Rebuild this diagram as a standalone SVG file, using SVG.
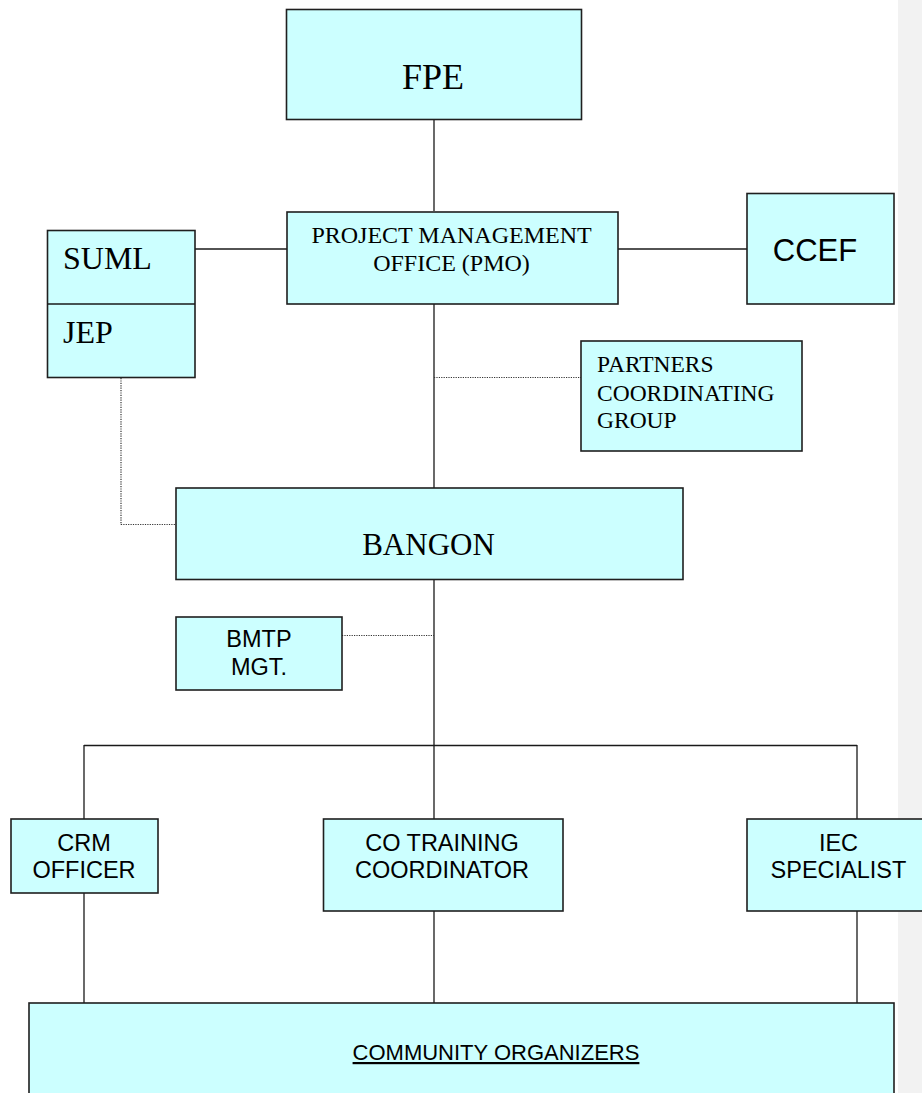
<svg xmlns="http://www.w3.org/2000/svg" width="922" height="1093" viewBox="0 0 922 1093">
<style>
.box{fill:#ccffff;stroke:#1f1f1f;stroke-width:1.6}
.ln{stroke:#1a1a1a;stroke-width:1.3;fill:none}
.dot{stroke:#333;stroke-width:1.2;fill:none;stroke-dasharray:1.2 1.2}
.serif{font-family:"Liberation Serif","Times New Roman",serif;fill:#000}
.sans{font-family:"Liberation Sans",Arial,sans-serif;fill:#000}
</style>
<rect x="898" y="0" width="24" height="1093" fill="#f2f2f2"/>
<g id="connectors">
<line class="ln" x1="434" y1="120" x2="434" y2="211"/>
<line class="ln" x1="434" y1="304" x2="434" y2="488"/>
<line class="ln" x1="195" y1="249" x2="287" y2="249"/>
<line class="ln" x1="618" y1="249" x2="747" y2="249"/>
<line class="ln" x1="434" y1="580" x2="434" y2="819"/>
<line class="ln" x1="84" y1="745.5" x2="857" y2="745.5"/>
<line class="ln" x1="84" y1="745" x2="84" y2="819"/>
<line class="ln" x1="857" y1="745" x2="857" y2="819"/>
<line class="ln" x1="84" y1="893" x2="84" y2="1003"/>
<line class="ln" x1="434" y1="911" x2="434" y2="1003"/>
<line class="ln" x1="857" y1="911" x2="857" y2="1003"/>
<line class="dot" x1="434" y1="377.5" x2="581" y2="377.5"/>
<polyline class="dot" points="121,378 121,524.5 176,524.5"/>
<line class="dot" x1="342" y1="635.5" x2="434" y2="635.5"/>
</g>
<g id="fpe">
<rect class="box" x="286.5" y="9.5" width="295" height="110"/>
<text class="serif" x="433" y="89" font-size="36" text-anchor="middle">FPE</text>
</g>
<g id="pmo">
<rect class="box" x="287" y="212" width="331" height="92"/>
<text class="serif" x="451.5" y="243" font-size="24" text-anchor="middle">PROJECT MANAGEMENT</text>
<text class="serif" x="451.5" y="271" font-size="24" text-anchor="middle">OFFICE (PMO)</text>
</g>
<g id="suml-jep">
<rect class="box" x="47.5" y="230.5" width="147.5" height="147"/>
<line class="ln" x1="47.5" y1="304" x2="195" y2="304" style="stroke-width:1.6"/>
<text class="serif" x="63" y="269" font-size="32">SUML</text>
<text class="serif" x="63" y="343" font-size="32">JEP</text>
</g>
<g id="ccef">
<rect class="box" x="747" y="193.5" width="147" height="110.5"/>
<text class="sans" x="815" y="261" font-size="31" text-anchor="middle">CCEF</text>
</g>
<g id="partners">
<rect class="box" x="581" y="341" width="221" height="110"/>
<text class="serif" x="597" y="372" font-size="23.5">PARTNERS</text>
<text class="serif" x="597" y="401" font-size="23.5">COORDINATING</text>
<text class="serif" x="597" y="428" font-size="23.5">GROUP</text>
</g>
<g id="bangon">
<rect class="box" x="176" y="488" width="507" height="91.5"/>
<text class="serif" x="428.5" y="555" font-size="31" text-anchor="middle">BANGON</text>
</g>
<g id="bmtp">
<rect class="box" x="176" y="617" width="166" height="73"/>
<text class="sans" x="259" y="647" font-size="23.5" text-anchor="middle">BMTP</text>
<text class="sans" x="259" y="675" font-size="23.5" text-anchor="middle">MGT.</text>
</g>
<g id="crm">
<rect class="box" x="11" y="819" width="147" height="74"/>
<text class="sans" x="84" y="851" font-size="23.5" text-anchor="middle">CRM</text>
<text class="sans" x="84" y="878" font-size="23.5" text-anchor="middle">OFFICER</text>
</g>
<g id="co-training">
<rect class="box" x="323.5" y="819" width="239.5" height="92"/>
<text class="sans" x="442" y="851" font-size="23.5" text-anchor="middle">CO TRAINING</text>
<text class="sans" x="442" y="878" font-size="23.5" text-anchor="middle">COORDINATOR</text>
</g>
<g id="iec">
<rect class="box" x="747" y="819" width="185" height="92"/>
<text class="sans" x="838.5" y="851" font-size="23.5" text-anchor="middle">IEC</text>
<text class="sans" x="838.5" y="878" font-size="23.5" text-anchor="middle">SPECIALIST</text>
</g>
<g id="community">
<rect class="box" x="29" y="1003" width="865" height="100"/>
<text class="sans" x="496" y="1060" font-size="22" text-anchor="middle" text-decoration="underline">COMMUNITY ORGANIZERS</text>
</g>
</svg>
